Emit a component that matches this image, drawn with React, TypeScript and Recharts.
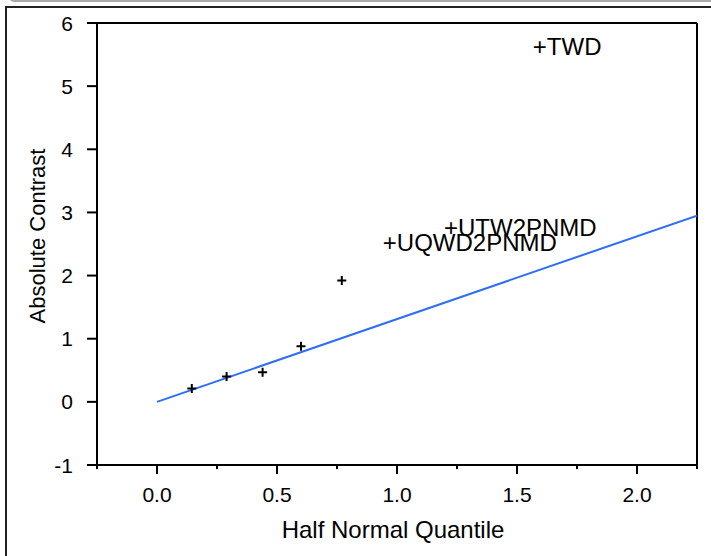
import React from 'react';
import { ScatterChart, Scatter, XAxis, YAxis, ReferenceLine } from 'recharts';

// small effects (unlabelled)
const smallX = [0.145, 0.29, 0.44, 0.6, 0.77];
const smallY = [0.21, 0.4, 0.47, 0.88, 1.92];

// labelled effects
const bigNames = ['UQWD2PNMD', 'UTW2PNMD', 'TWD'];
const bigX = [0.97, 1.225, 1.595];
const bigY = [2.52, 2.76, 5.62];

// reference line through origin
const fitX = [0, 2.25];
const fitY = [0, 2.95];

const xTicks = [-0.25, 0, 0.25, 0.5, 0.75, 1, 1.25, 1.5, 1.75, 2, 2.25];
const yTicks = [-1, 0, 1, 2, 3, 4, 5, 6];

const FONT = '"Liberation Sans", Arial, sans-serif';

const smallData = smallX.map((x, i) => ({ x, y: smallY[i] }));
const bigData = bigX.map((x, i) => ({ x, y: bigY[i], name: bigNames[i] }));
const fitData = fitX.map((x, i) => ({ x, y: fitY[i] }));

const PlusShape = (props: any) => {
  const { cx, cy } = props;
  return (
    <path
      d={`M${cx - 4.5},${cy}H${cx + 4.5}M${cx},${cy - 4.5}V${cy + 4.5}`}
      stroke="#000"
      strokeWidth={2}
      fill="none"
    />
  );
};

const LabelShape = (props: any) => {
  const { cx, cy } = props;
  const name = props.payload?.name ?? props.name;
  return (
    <text x={cx - 7} y={cy + 8.5} fontSize={24} fontFamily={FONT} fill="#000">
      {'+' + name}
    </text>
  );
};

const NoShape = () => <g />;

const XTick = (props: any) => {
  const { x, y, payload } = props;
  const v = payload.value;
  const major = Math.abs(v * 2 - Math.round(v * 2)) < 1e-6;
  return (
    <g>
      <line x1={x} x2={x} y1={y} y2={y + (major ? 9 : 4)} stroke="#000" strokeWidth={2} />
      {major && (
        <text x={x} y={y + 37} textAnchor="middle" fontSize={21} fontFamily={FONT} fill="#000">
          {v.toFixed(1)}
        </text>
      )}
    </g>
  );
};

const YTick = (props: any) => {
  const { x, y, payload } = props;
  return (
    <g>
      <line x1={x} x2={x - 10} y1={y} y2={y} stroke="#000" strokeWidth={2} />
      <text x={x - 24} y={y + 7.5} textAnchor="end" fontSize={21} fontFamily={FONT} fill="#000">
        {payload.value}
      </text>
    </g>
  );
};

export default function App() {
  return (
    <div style={{ position: 'relative', width: 711, height: 556, overflow: 'hidden', background: '#fff' }}>
      <style>{'body{margin:0}'}</style>
      <div
        style={{
          position: 'absolute', left: 9, top: -10, width: 720, height: 12,
          border: '2px solid #aaa', borderRadius: 5, boxSizing: 'border-box',
        }}
      />
      <div
        style={{
          position: 'absolute', left: 5, top: 6, width: 720, height: 560,
          borderLeft: '2px solid #222', borderTop: '2px solid #222', boxSizing: 'border-box',
        }}
      />
      <div style={{ position: 'absolute', left: 0, top: 0 }}>
        <ScatterChart width={711} height={556} margin={{ top: 23, right: 14, bottom: 11, left: 27 }}>
          <XAxis
            type="number"
            dataKey="x"
            domain={[-0.25, 2.25]}
            ticks={xTicks}
            interval={0}
            allowDataOverflow
            height={80}
            tickSize={0}
            tickMargin={0}
            tickLine={false}
            axisLine={{ stroke: '#000', strokeWidth: 2 }}
            tick={<XTick />}
          />
          <YAxis
            type="number"
            dataKey="y"
            domain={[-1, 6]}
            ticks={yTicks}
            interval={0}
            allowDataOverflow
            width={70}
            tickSize={0}
            tickMargin={0}
            tickLine={false}
            axisLine={{ stroke: '#000', strokeWidth: 2 }}
            tick={<YTick />}
          />
          <ReferenceLine y={6} stroke="#000" strokeWidth={2} />
          <ReferenceLine x={2.25} stroke="#000" strokeWidth={2} />
          <Scatter
            data={fitData}
            line={{ stroke: '#2f6ef2', strokeWidth: 2 }}
            shape={<NoShape />}
            isAnimationActive={false}
          />
          <Scatter data={smallData} shape={<PlusShape />} isAnimationActive={false} />
          <Scatter data={bigData} shape={<LabelShape />} isAnimationActive={false} />
          <text x={393} y={538} textAnchor="middle" fontSize={24} fontFamily={FONT} fill="#000">
            Half Normal Quantile
          </text>
          <text
            x={37}
            y={236}
            textAnchor="middle"
            fontSize={22}
            fontFamily={FONT}
            fill="#000"
            transform="rotate(-90 37 236)"
            dominantBaseline="central"
          >
            Absolute Contrast
          </text>
        </ScatterChart>
      </div>
    </div>
  );
}
